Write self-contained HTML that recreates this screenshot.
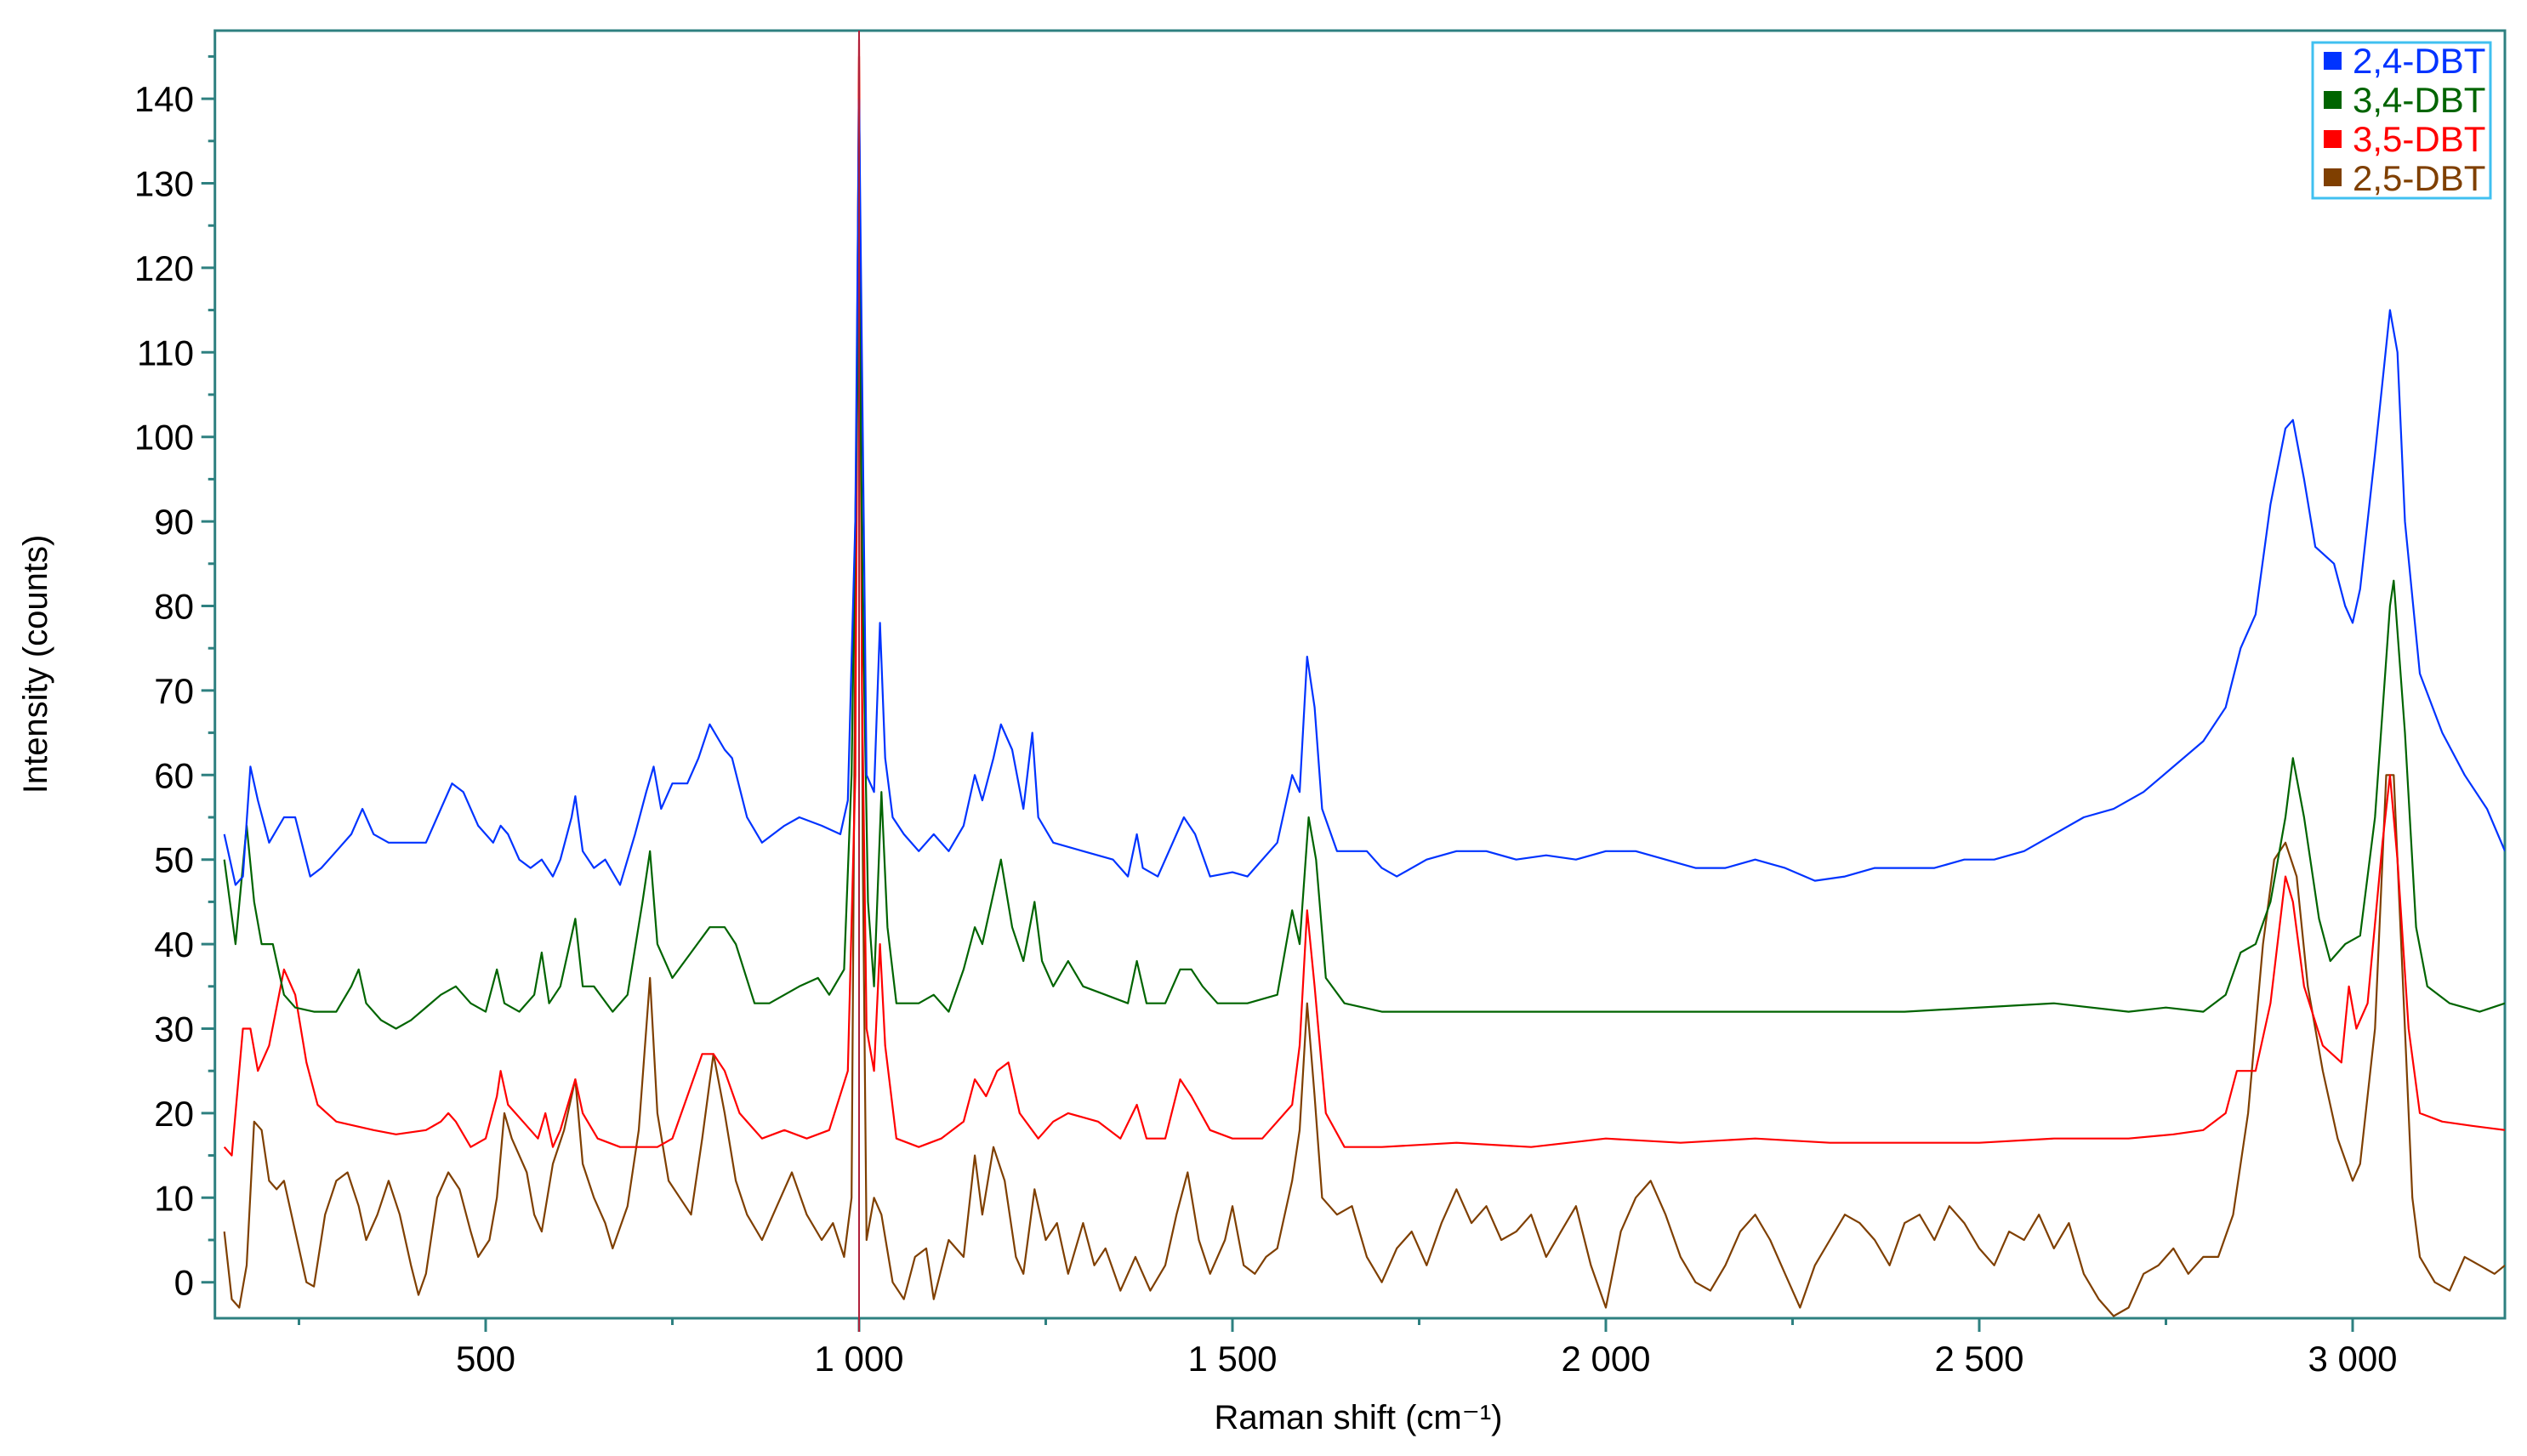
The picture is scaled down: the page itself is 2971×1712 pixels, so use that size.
<!DOCTYPE html>
<html><head><meta charset="utf-8"><style>
html,body{margin:0;padding:0;background:#fff;}
svg{display:block;}
text{font-family:"Liberation Sans",Arial,sans-serif;}
</style></head><body>
<svg id="chart" width="2971" height="1712" viewBox="0 0 2971 1712" xmlns="http://www.w3.org/2000/svg">
<g id="axes"></g>
<g id="series"></g>
<text x="1597" y="1680" font-size="40" text-anchor="middle">Raman shift (cm⁻¹)</text>
<text x="55" y="781" font-size="40" text-anchor="middle" transform="rotate(-90 55 781)">Intensity (counts)</text>
<g>
<rect x="2719" y="50" width="209" height="183" fill="#fff" stroke="#40c0f0" stroke-width="3"/>
<rect x="2732" y="61" width="21" height="21" fill="#0033ff"/>
<text x="2766" y="86" font-size="42" fill="#0033ff">2,4-DBT</text>
<rect x="2732" y="107" width="21" height="21" fill="#006400"/>
<text x="2766" y="132" font-size="42" fill="#006400">3,4-DBT</text>
<rect x="2732" y="153" width="21" height="21" fill="#ff0000"/>
<text x="2766" y="178" font-size="42" fill="#ff0000">3,5-DBT</text>
<rect x="2732" y="198" width="21" height="21" fill="#7f3f00"/>
<text x="2766" y="224" font-size="42" fill="#7f3f00">2,5-DBT</text>
</g>
</svg>
<script>
const xTickValues=[500,1000,1500,2000,2500,3000];
const xTickLabels=["500","1 000","1 500","2 000","2 500","3 000"];
const yTickValues=[0,10,20,30,40,50,60,70,80,90,100,110,120,130,140];
const yTickLabels=["0","10","20","30","40","50","60","70","80","90","100","110","120","130","140"];
const blueX=[150,165,175,185,195,210,230,245,265,280,300,320,335,350,370,420,440,455,470,490,510,520,530,545,560,575,590,600,615,620,630,645,660,680,700,715,725,735,750,770,785,800,820,830,850,870,900,920,950,975,985,995,1000,1005,1010,1020,1028,1035,1045,1060,1080,1100,1120,1140,1155,1165,1180,1190,1205,1220,1232,1240,1260,1300,1340,1360,1372,1380,1400,1420,1435,1450,1470,1500,1520,1560,1580,1590,1600,1610,1620,1640,1680,1700,1720,1760,1800,1840,1880,1920,1960,2000,2040,2080,2120,2160,2200,2240,2280,2320,2360,2400,2440,2480,2520,2560,2600,2640,2680,2720,2760,2800,2830,2850,2870,2890,2910,2920,2935,2950,2975,2990,3000,3010,3030,3050,3060,3070,3090,3120,3150,3180,3204];
const blueY=[53,47,48,61,57,52,55,55,48,49,51,53,56,53,52,52,56,59,58,54,52,54,53,50,49,50,48,50,55,57.5,51,49,50,47,53,58,61,56,59,59,62,66,63,62,55,52,54,55,54,53,57,90,140,100,60,58,78,62,55,53,51,53,51,54,60,57,62,66,63,56,65,55,52,51,50,48,53,49,48,52,55,53,48,48.5,48,52,60,58,74,68,56,51,51,49,48,50,51,51,50,50.5,50,51,51,50,49,49,50,49,47.5,48,49,49,49,50,50,51,53,55,56,58,61,64,68,75,79,92,101,102,95,87,85,80,78,82,98,115,110,90,72,65,60,56,51];
const greenX=[150,165,180,190,200,215,230,245,270,300,320,330,340,360,380,400,440,460,480,500,515,525,545,565,575,585,600,620,630,645,670,690,710,720,730,750,775,800,820,835,860,880,920,945,960,980,990,1000,1005,1012,1020,1030,1038,1050,1080,1100,1120,1140,1155,1165,1180,1190,1205,1220,1235,1245,1260,1280,1300,1330,1360,1372,1385,1410,1430,1445,1460,1480,1520,1560,1580,1590,1602,1612,1625,1650,1700,1800,2000,2200,2400,2600,2700,2750,2800,2830,2850,2870,2890,2910,2920,2935,2955,2970,2990,3010,3030,3050,3055,3070,3085,3100,3130,3170,3204];
const greenY=[50,40,54,45,40,40,34,32.5,32,32,35,37,33,31,30,31,34,35,33,32,37,33,32,34,39,33,35,43,35,35,32,34,45,51,40,36,39,42,42,40,33,33,35,36,34,37,60,120,80,45,35,58,42,33,33,34,32,37,42,40,46,50,42,38,45,38,35,38,35,34,33,38,33,33,37,37,35,33,33,34,44,40,55,50,36,33,32,32,32,32,32,33,32,32.5,32,34,39,40,45,55,62,55,43,38,40,41,55,80,83,65,42,35,33,32,33];
const redX=[150,160,175,185,195,210,230,245,260,275,300,350,380,420,440,450,460,480,500,515,520,530,550,570,580,590,600,620,630,650,680,700,730,750,770,790,805,820,840,870,900,930,960,985,995,1000,1004,1010,1020,1028,1035,1050,1080,1110,1140,1155,1170,1185,1200,1215,1240,1260,1280,1320,1350,1372,1385,1410,1430,1445,1470,1500,1540,1580,1590,1600,1610,1625,1650,1700,1800,1900,2000,2100,2200,2300,2400,2500,2600,2700,2760,2800,2830,2845,2870,2890,2910,2920,2935,2960,2985,2995,3005,3020,3040,3050,3060,3075,3090,3120,3160,3204];
const redY=[16,15,30,30,25,28,37,34,26,21,19,18,17.5,18,19,20,19,16,17,22,25,21,19,17,20,16,18,24,20,17,16,16,16,17,22,27,27,25,20,17,18,17,18,25,60,147,70,30,25,40,28,17,16,17,19,24,22,25,26,20,17,19,20,19,17,21,17,17,24,22,18,17,17,21,28,44,35,20,16,16,16.5,16,17,16.5,17,16.5,16.5,16.5,17,17,17.5,18,20,25,25,33,48,45,35,28,26,35,30,33,52,60,50,30,20,19,18.5,18];
const brownX=[150,160,170,180,190,200,210,220,230,245,260,270,285,300,315,330,340,355,370,385,400,410,420,435,450,465,480,490,505,515,525,535,545,555,565,575,590,605,620,630,645,660,670,690,705,720,730,745,760,775,790,805,820,835,850,870,890,910,930,950,965,980,990,1000,1005,1010,1020,1030,1045,1060,1075,1090,1100,1120,1140,1155,1165,1180,1195,1210,1220,1235,1250,1265,1280,1300,1315,1330,1350,1370,1390,1410,1425,1440,1455,1470,1490,1500,1515,1530,1545,1560,1580,1590,1600,1610,1620,1640,1660,1680,1700,1720,1740,1760,1780,1800,1820,1840,1860,1880,1900,1920,1940,1960,1980,2000,2020,2040,2060,2080,2100,2120,2140,2160,2180,2200,2220,2240,2260,2280,2300,2320,2340,2360,2380,2400,2420,2440,2460,2480,2500,2520,2540,2560,2580,2600,2620,2640,2660,2680,2700,2720,2740,2760,2780,2800,2820,2840,2860,2880,2895,2910,2925,2940,2960,2980,3000,3010,3030,3045,3055,3065,3080,3090,3110,3130,3150,3170,3190,3204];
const brownY=[6,-2,-3,2,19,18,12,11,12,6,0,-0.5,8,12,13,9,5,8,12,8,2,-1.5,1,10,13,11,6,3,5,10,20,17,15,13,8,6,14,18,24,14,10,7,4,9,18,36,20,12,10,8,17,27,20,12,8,5,9,13,8,5,7,3,10,145,50,5,10,8,0,-2,3,4,-2,5,3,15,8,16,12,3,1,11,5,7,1,7,2,4,-1,3,-1,2,8,13,5,1,5,9,2,1,3,4,12,18,33,22,10,8,9,3,0,4,6,2,7,11,7,9,5,6,8,3,6,9,2,-3,6,10,12,8,3,0,-1,2,6,8,5,1,-3,2,5,8,7,5,2,7,8,5,9,7,4,2,6,5,8,4,7,1,-2,-4,-3,1,2,4,1,3,3,8,20,40,50,52,48,35,25,17,12,14,30,60,60,40,10,3,0,-1,3,2,1,2];

const L=252.7,R=2945,T=36,B=1550;
const X=v=>571+(v-500)*0.878;
const Y=v=>1507.7-v*9.94;
const NS="http://www.w3.org/2000/svg";
const axes=document.getElementById('axes');
const AX="#2e8080";
function mk(tag,attrs,parent){const e=document.createElementNS(NS,tag);for(const k in attrs)e.setAttribute(k,attrs[k]);parent.appendChild(e);return e;}

// y ticks
for(let v=0;v<=145;v+=5){
  const major=v%10===0;
  const t=mk('line',{x1:L-(major?16:8),x2:L,y1:Y(v),y2:Y(v),stroke:AX,'stroke-width':3},axes);
  
  
}
yTickValues.forEach((v,i)=>{
  const t=mk('text',{x:228,y:Y(v)+15,'font-size':42,'text-anchor':'end',fill:'#000'},axes);
  t.textContent=yTickLabels[i];
  
  
});
// x ticks
for(let v=250;v<=3200;v+=250){
  const major=v%500===0;
  const t=mk('line',{x1:X(v),x2:X(v),y1:B,y2:B+(major?16:8),stroke:AX,'stroke-width':3},axes);
  
  
}
xTickValues.forEach((v,i)=>{
  const t=mk('text',{x:X(v),y:1612,'font-size':42,'text-anchor':'middle',fill:'#000'},axes);
  t.textContent=xTickLabels[i];
  
  
});
const frame=mk('rect',{x:L,y:T,width:R-L,height:B-T,fill:'none',stroke:AX,'stroke-width':3},axes);



const sg=document.getElementById('series');
const clip=mk('clipPath',{id:'pc'},sg);
mk('rect',{x:L,y:T,width:R-L,height:B-T},clip);
function line(xs,ys,color,name){
  let d='';
  xs.forEach((x,i)=>{d+=(i?'L':'M')+X(x).toFixed(1)+','+Y(ys[i]).toFixed(1);});
  const p=mk('path',{d:d,fill:'none',stroke:color,'stroke-width':2.2,'stroke-linejoin':'round','clip-path':'url(#pc)'},sg);
  
  
}
line(brownX,brownY,'#7f3f00','series-25dbt');
line(redX,redY,'#ff0000','series-35dbt');
line(greenX,greenY,'#006400','series-34dbt');
line(blueX,blueY,'#0033ff','series-24dbt');
const marker=mk('line',{x1:X(1000),x2:X(1000),y1:T,y2:B+16,stroke:'#b0203a','stroke-width':2},sg);


</script>
</body></html>
